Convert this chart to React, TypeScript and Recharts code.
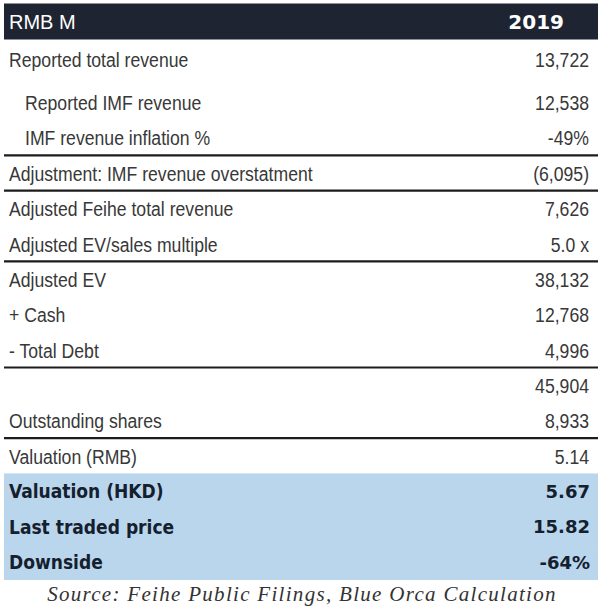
import React from 'react'
import { BarChart, Bar, XAxis, YAxis, LabelList } from 'recharts'

const HEADER_LABEL = 'RMB M'
const HEADER_YEAR = '2019'

const rowLabels = [
  'Reported total revenue',
  'Reported IMF revenue',
  'IMF revenue inflation %',
  'Adjustment: IMF revenue overstatment',
  'Adjusted Feihe total revenue',
  'Adjusted EV/sales multiple',
  'Adjusted EV',
  '+ Cash',
  '- Total Debt',
  '',
  'Outstanding shares',
  'Valuation (RMB)',
  'Valuation (HKD)',
  'Last traded price',
  'Downside',
]
const rowValues = [13722, 12538, -49, -6095, 7626, 5.0, 38132, 12768, 4996, 45904, 8933, 5.14, 5.67, 15.82, -64]
const rowFormats = ['int', 'int', 'pct', 'paren', 'int', 'mult', 'int', 'int', 'int', 'int', 'int', 'dec', 'dec', 'dec', 'pct']

const indentedRows = ['Reported IMF revenue', 'IMF revenue inflation %']
const ruledRows = ['IMF revenue inflation %', 'Adjustment: IMF revenue overstatment', 'Adjusted EV/sales multiple', '- Total Debt', 'Outstanding shares']
const highlightRows = ['Valuation (HKD)', 'Last traded price', 'Downside']

const SOURCE = 'Source: Feihe Public Filings, Blue Orca Calculation'

const HEADER_BG = '#1e2431'
const BLUE = '#bad6ed'
const TEXT = '#383838'
const BOLD_TEXT = '#15202e'
const SANS = "'Liberation Sans', Arial, sans-serif"

const fmt = (v: number, f: string) => {
  if (f === 'pct') return `${v}%`
  if (f === 'paren') return `(${Math.abs(v).toLocaleString('en-US')})`
  if (f === 'mult') return `${v.toFixed(1)} x`
  if (f === 'dec') return v.toFixed(2)
  return v.toLocaleString('en-US')
}

type Row = { id: number; label: string; text: string; kind: string; band: number }

const allRows: Row[] = [
  { id: 0, label: HEADER_LABEL, text: HEADER_YEAR, kind: 'header', band: 1 },
  ...rowLabels.map((l, i) => ({
    id: i + 1,
    label: l,
    text: fmt(rowValues[i], rowFormats[i]),
    kind: highlightRows.includes(l) ? 'hi' : 'plain',
    band: 1,
  })),
]
// top block (header + first line) sits a bit apart from the rest
const topRows = allRows.slice(0, 2)
const bodyRows = allRows.slice(2)

const RowBand = (props: any) => {
  const { x, y, width, height, payload } = props
  const fill = payload.kind === 'header' ? HEADER_BG : payload.kind === 'hi' ? BLUE : 'none'
  const rule = ruledRows.includes(payload.label)
  return (
    <g>
      <rect x={x} y={y - 0.5} width={width} height={height + 1} fill={fill} />
      {rule && <line x1={x} x2={x + width} y1={y + height} y2={y + height} stroke="#1c1c1c" strokeWidth={2.2} />}
    </g>
  )
}

// narrow face: regular sans squeezed horizontally
const Narrow = ({ x, y, anchor, children }: any) => (
  <text transform={`translate(${x},${y}) scale(0.84,1)`} dominantBaseline="central" textAnchor={anchor} fill={TEXT} fontSize={21} fontFamily={SANS}>
    {children}
  </text>
)

const makeLeft = (rows: Row[]) => (props: any) => {
  const vb = props.viewBox || props
  const r = rows[props.index]
  if (!r) return null
  const cy = vb.y + vb.height / 2
  const indent = indentedRows.includes(r.label) ? 16 : 0
  if (r.kind === 'header')
    return <text x={vb.x + 5} y={cy} dominantBaseline="central" fill="#fff" fontSize={20} fontFamily={SANS}>{r.label}</text>
  if (r.kind === 'hi')
    return <text x={vb.x + 5} y={cy} dominantBaseline="central" fill={BOLD_TEXT} fontSize={19} fontWeight="bold" fontFamily="'DejaVu Sans Condensed', 'DejaVu Sans', sans-serif" fontStretch="condensed">{r.label}</text>
  return <Narrow x={vb.x + 5 + indent} y={cy} anchor="start">{r.label}</Narrow>
}

const makeRight = (rows: Row[]) => (props: any) => {
  const vb = props.viewBox || props
  const r = rows[props.index]
  if (!r) return null
  const cy = vb.y + vb.height / 2
  if (r.kind === 'header')
    return <text x={vb.x + vb.width - 34} y={cy} dominantBaseline="central" textAnchor="end" fill="#fff" fontSize={20} fontWeight="bold" fontFamily="'DejaVu Sans', sans-serif">{r.text}</text>
  if (r.kind === 'hi')
    return <text x={vb.x + vb.width - 8} y={cy} dominantBaseline="central" textAnchor="end" fill={BOLD_TEXT} fontSize={18} fontWeight="bold" fontFamily="'DejaVu Sans', sans-serif">{r.text}</text>
  return <Narrow x={vb.x + vb.width - 9} y={cy} anchor="end">{r.text}</Narrow>
}

const TableBlock = ({ rows, height, margin, barSize }: { rows: Row[]; height: number; margin: any; barSize?: number }) => (
  <BarChart width={604} height={height} data={rows} layout="vertical" margin={margin} barCategoryGap={0} barSize={barSize}>
    <XAxis type="number" domain={[0, 1]} hide />
    <YAxis type="category" dataKey="id" hide />
    <Bar dataKey="band" shape={RowBand} isAnimationActive={false}>
      <LabelList dataKey="label" content={makeLeft(rows)} />
      <LabelList dataKey="text" content={makeRight(rows)} />
    </Bar>
  </BarChart>
)

export default function App() {
  return (
    <div style={{ position: 'absolute', left: 0, top: 0, width: 604, height: 610, background: '#fff' }}>
      <div style={{ position: 'absolute', left: 0, top: 0 }}>
        <TableBlock rows={topRows} height={80} margin={{ top: 2, right: 6, bottom: 2, left: 4 }} barSize={35} />
      </div>
      <div style={{ position: 'absolute', left: 0, top: 84 }}>
        <TableBlock rows={bodyRows} height={496} margin={{ top: 1, right: 6, bottom: 0, left: 4 }} />
      </div>
      <div style={{ position: 'absolute', left: 0, top: 582, width: 604, textAlign: 'center', fontFamily: "'Liberation Serif', 'Times New Roman', serif", fontStyle: 'italic', fontSize: 21, color: '#333', letterSpacing: 1.3 }}>
        {SOURCE}
      </div>
    </div>
  )
}
